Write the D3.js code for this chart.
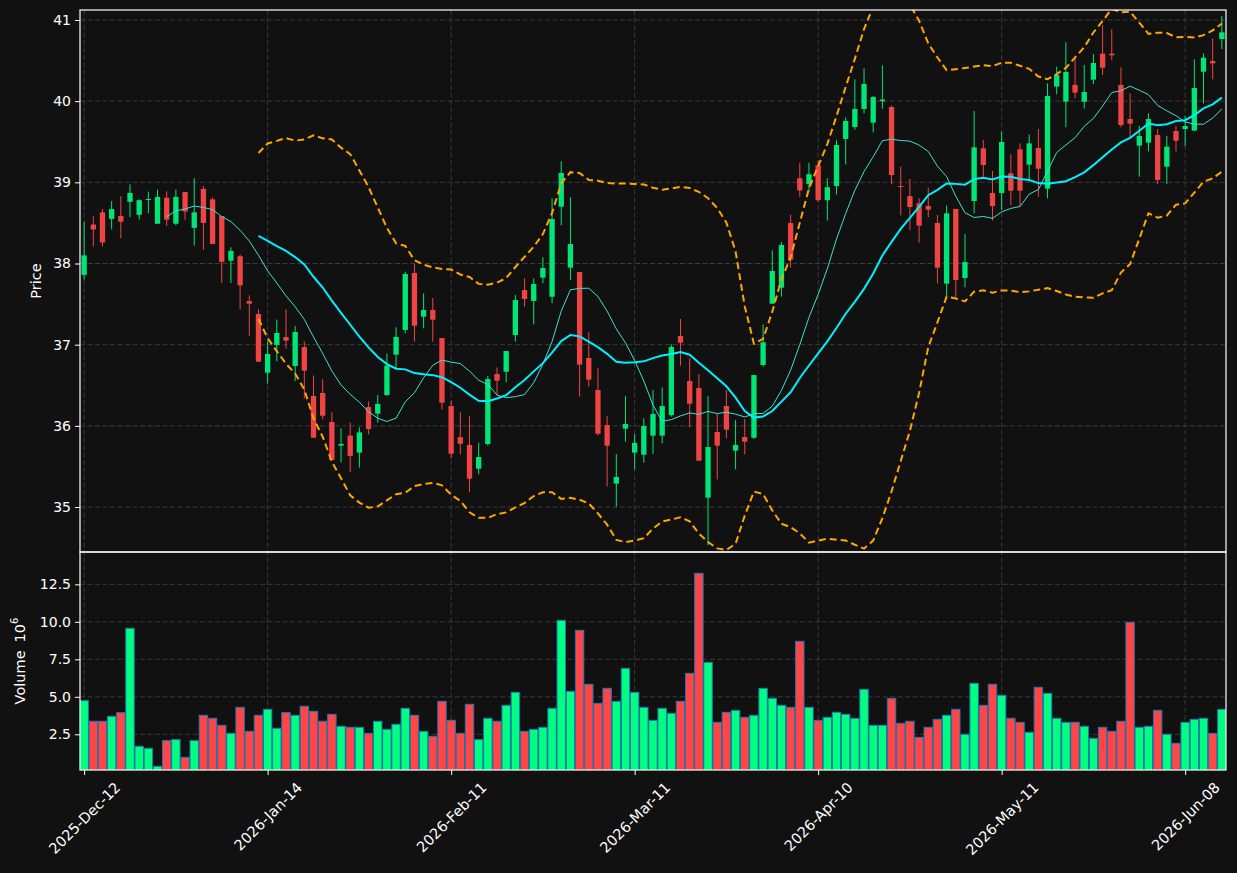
<!DOCTYPE html>
<html><head><meta charset="utf-8">
<script src="https://cdn.jsdelivr.net/npm/d3@7"></script>
<style>body{margin:0;background:#111111;} svg{display:block;}</style>
</head><body>
<svg id="chart" width="1237" height="873"></svg>
<script>
const opens = [37.86,38.48,38.63,38.55,38.585,38.76,38.60,38.785,38.49,38.81,
38.49,38.88,38.44,38.92,38.79,38.585,38.035,38.09,37.538,37.378,
36.655,36.996,37.094,36.737,36.97,36.368,36.405,36.047,35.756,35.88,
35.67,36.232,36.15,36.38,36.877,37.181,37.883,37.345,37.427,37.082,
36.244,35.862,35.764,35.472,35.776,36.639,36.667,37.119,37.673,37.538,
37.826,37.591,38.70,37.949,37.895,36.836,36.442,36.01,35.288,35.965,
35.67,35.645,35.879,35.879,36.133,37.107,36.552,36.466,35.115,35.924,
36.244,35.694,35.862,35.854,36.75,37.505,37.702,38.499,39.05,38.98,
39.21,38.78,38.955,39.534,39.682,39.904,39.735,40.0,39.928,38.955,
38.83,38.741,38.709,38.499,37.752,38.672,37.821,38.77,39.419,38.868,
38.868,39.111,39.407,39.218,39.423,38.922,40.179,39.994,40.2,39.994,
40.265,40.585,40.585,40.2,39.78,39.452,39.489,39.583,39.193,39.632,
39.657,39.637,40.363,40.495,40.766];
const highs = [38.51,38.58,38.67,38.77,38.83,38.975,38.79,38.885,38.91,38.89,
38.91,38.88,39.05,38.955,38.815,38.585,38.20,38.11,37.608,37.435,
37.04,37.31,37.435,37.23,37.04,36.62,36.573,36.17,35.97,36.04,
35.98,36.30,36.38,36.89,37.214,37.90,37.994,37.632,37.575,37.082,
36.31,36.166,36.117,35.793,36.614,36.72,36.922,37.612,37.817,37.817,
38.076,38.803,39.259,38.815,37.895,37.152,36.708,36.121,35.653,36.368,
35.90,36.093,36.442,36.474,37.004,37.316,36.832,36.639,36.368,36.146,
36.441,36.072,36.084,36.626,37.25,38.162,38.265,38.60,39.24,39.24,
39.27,39.05,39.52,39.80,40.269,40.405,40.064,40.441,39.949,39.193,
39.041,38.803,38.934,38.598,38.713,38.672,38.363,39.879,39.522,39.14,
39.624,39.345,39.48,39.59,39.657,40.22,40.425,40.725,40.548,40.446,
40.581,40.934,40.885,40.417,40.097,39.694,39.85,39.657,39.571,39.694,
39.817,40.515,40.589,40.774,41.05];
const lows = [37.80,38.21,38.21,38.42,38.31,38.57,38.54,38.62,38.49,38.46,
38.47,38.54,38.22,38.17,38.24,37.76,37.76,37.435,37.11,36.79,
36.52,36.795,36.95,36.55,36.34,35.854,36.08,35.58,35.55,35.43,
35.485,35.895,36.04,36.37,36.71,37.14,37.037,37.201,37.037,36.203,
35.60,35.649,35.18,35.403,35.756,36.38,36.536,37.037,37.468,37.25,
37.756,37.51,38.47,37.797,36.36,36.483,35.88,35.251,35.004,35.805,
35.464,35.546,35.653,35.785,36.113,36.741,35.982,35.571,34.53,35.341,
35.846,35.464,35.649,35.838,36.729,37.505,37.592,37.949,38.82,38.88,
38.76,38.53,38.85,39.22,39.649,39.85,39.616,39.907,38.975,38.593,
38.409,38.257,38.569,37.756,37.592,37.583,37.706,38.618,39.07,38.528,
38.659,38.72,38.70,39.01,38.823,38.803,40.084,39.678,40.035,39.908,
40.211,40.322,40.503,39.678,39.542,39.07,39.382,38.98,38.98,39.378,
39.448,39.637,39.973,40.269,40.643];
const closes = [38.10,38.42,38.26,38.67,38.515,38.87,38.78,38.795,38.82,38.54,
38.82,38.64,38.63,38.50,38.24,38.02,38.155,37.73,37.505,36.79,
36.885,37.144,37.05,37.156,36.68,35.854,36.125,35.579,35.777,35.63,
35.92,35.961,36.27,36.74,37.095,37.871,37.234,37.427,37.308,36.285,
35.657,35.78,35.349,35.616,36.577,36.556,36.922,37.55,37.563,37.747,
37.945,38.548,39.115,38.24,36.754,36.569,35.903,35.756,35.37,36.023,
35.79,35.998,36.146,36.244,36.971,37.025,36.273,35.571,35.739,35.756,
35.953,35.764,35.805,36.626,37.029,37.908,38.228,38.047,38.90,39.10,
38.78,38.94,39.46,39.756,39.904,40.212,40.051,40.02,39.09,38.943,
38.696,38.466,38.663,37.949,38.618,37.797,38.018,39.431,39.213,38.708,
39.497,38.897,38.897,39.48,39.168,40.064,40.322,40.36,40.105,40.113,
40.47,40.413,40.565,39.706,39.723,39.571,39.78,39.03,39.439,39.513,
39.694,40.162,40.536,40.466,40.848];
const volumes = [4.745,3.37,3.37,3.70,3.945,9.57,1.70,1.567,0.367,2.078,
2.145,0.967,2.078,3.767,3.567,3.10,2.567,4.30,2.70,3.767,
4.167,2.90,3.945,3.767,4.367,4.034,3.37,3.834,3.034,2.967,
2.967,2.567,3.37,2.833,3.167,4.234,3.767,2.70,2.367,4.70,
3.434,2.567,4.50,2.145,3.567,3.37,4.434,5.30,2.70,2.833,
2.967,4.234,10.10,5.367,9.434,5.834,4.567,5.567,4.70,6.90,
5.30,4.30,3.434,4.234,3.90,4.70,6.567,13.233,7.30,3.30,
3.967,4.10,3.634,3.767,5.567,4.90,4.434,4.30,8.70,4.30,
3.434,3.634,3.967,3.834,3.567,5.50,3.10,3.10,4.90,3.234,
3.37,2.30,2.967,3.50,3.767,4.167,2.50,5.90,4.434,5.834,
5.10,3.567,3.30,2.634,5.634,5.234,3.567,3.30,3.30,3.034,
2.234,2.967,2.70,3.37,9.967,2.967,3.034,4.10,2.50,1.90,
3.30,3.50,3.567,2.567,4.167];
const tickIndex = [0,20,40,60,80,100,120];
const tickLabels = ["2025-Dec-12","2026-Jan-14","2026-Feb-11","2026-Mar-11","2026-Apr-10","2026-May-11","2026-Jun-08"];
const priceTicks = [35,36,37,38,39,40,41];
const volumeTicks = [2.5,5,7.5,10,12.5];
const maShort = 10, maLong = 20, bbK = 2;

const W=1237,H=873;
const L=80,R=1226,T=10,MID=552,B=770;
const FONT='"DejaVu Sans", sans-serif';
const UP='#00e676', DOWN='#ef4444', VUP='#00ff80', VDOWN='#ff4545';
const svg=d3.select('#chart');
svg.append('rect').attr('width',W).attr('height',H).attr('fill','#111111');
const n=closes.length;
const x=d3.scaleLinear().domain([-0.45,n-1+0.45]).range([L,R]);
const step=x(1)-x(0);
const yP=d3.scaleLinear().domain([34.446,41.123]).range([MID,T]);
const yV=d3.scaleLinear().domain([0.12,14.656]).range([B,MID]);

const defs=svg.append('defs');
defs.append('clipPath').attr('id','cpP').append('rect').attr('x',L).attr('y',T).attr('width',R-L).attr('height',MID-T);
defs.append('clipPath').attr('id','cpV').append('rect').attr('x',L).attr('y',MID).attr('width',R-L).attr('height',B-MID);

// grids
const grid=svg.append('g').attr('stroke','#3a3a3a').attr('stroke-width',1).attr('stroke-dasharray','5,2.5');
priceTicks.forEach(v=>grid.append('line').attr('x1',L).attr('x2',R).attr('y1',yP(v)).attr('y2',yP(v)));
volumeTicks.forEach(v=>grid.append('line').attr('x1',L).attr('x2',R).attr('y1',yV(v)).attr('y2',yV(v)));
tickIndex.forEach(i=>{grid.append('line').attr('x1',x(i)).attr('x2',x(i)).attr('y1',T).attr('y2',B);});

// rolling stats
function sma(arr,w){return arr.map((_,i)=> i<w-1?null: d3.mean(arr.slice(i-w+1,i+1)));}
function sdev(arr,w){return arr.map((_,i)=>{ if(i<w-1) return null; const s=arr.slice(i-w+1,i+1); const m=d3.mean(s); return Math.sqrt(d3.mean(s,v=>(v-m)*(v-m)));});}
const ma10=sma(closes,maShort), ma20=sma(closes,maLong), sd20=sdev(closes,maLong);
const bbUp=ma20.map((m,i)=>m==null?null:m+bbK*sd20[i]);
const bbLo=ma20.map((m,i)=>m==null?null:m-bbK*sd20[i]);

const gP=svg.append('g').attr('clip-path','url(#cpP)');
const line=d3.line().defined(d=>d!=null).x((d,i)=>x(i)).y(d=>yP(d));

// candles
const idx=d3.range(n);
gP.selectAll('line.wick').data(idx).join('line').attr('class','wick')
  .attr('x1',i=>x(i)).attr('x2',i=>x(i)).attr('y1',i=>yP(highs[i])).attr('y2',i=>yP(lows[i]))
  .attr('stroke',i=>closes[i]>=opens[i]?UP:DOWN).attr('stroke-width',1);
const bw=step*0.58;
gP.selectAll('rect.body').data(idx).join('rect').attr('class','body')
  .attr('x',i=>x(i)-bw/2).attr('width',bw)
  .attr('y',i=>yP(Math.max(opens[i],closes[i])))
  .attr('height',i=>Math.max(1,Math.abs(yP(opens[i])-yP(closes[i]))))
  .attr('fill',i=>closes[i]>=opens[i]?UP:DOWN);

// MAs & bands
gP.append('path').datum(ma10).attr('d',line).attr('fill','none').attr('stroke','#40e0d0').attr('stroke-width',1);
gP.append('path').datum(ma20).attr('d',line).attr('fill','none').attr('stroke','#00f0ff').attr('stroke-width',2);
[bbUp,bbLo].forEach(b=>gP.append('path').datum(b).attr('d',line).attr('fill','none').attr('stroke','#ffa500').attr('stroke-width',2).attr('stroke-dasharray','7,4'));

// volume
const gV=svg.append('g').attr('clip-path','url(#cpV)');
const vw=step*0.92;
gV.selectAll('rect').data(idx).join('rect')
  .attr('x',i=>x(i)-vw/2).attr('width',vw)
  .attr('y',i=>yV(volumes[i])).attr('height',i=>yV(0)-yV(volumes[i]))
  .attr('fill',i=>closes[i]>=opens[i]?VUP:VDOWN)
  .attr('stroke','#1f77b4').attr('stroke-width',1);

// frames
[[T,MID],[MID,B]].forEach(([a,b])=>svg.append('rect').attr('x',L).attr('y',a).attr('width',R-L).attr('height',b-a).attr('fill','none').attr('stroke','#ffffff').attr('stroke-width',1.2));

// axes
function styleAxis(g,fs){g.select('.domain').remove();g.selectAll('line').attr('stroke','#ffffff');g.selectAll('text').attr('fill','#ffffff').style('font-family',FONT).style('font-size',fs||'14px');}
svg.append('g').attr('transform',`translate(${L},0)`).call(d3.axisLeft(yP).tickValues(priceTicks).tickSize(5).tickPadding(4).tickFormat(d3.format('d'))).call(styleAxis);
svg.append('g').attr('transform',`translate(${L},0)`).call(d3.axisLeft(yV).tickValues(volumeTicks).tickSize(5).tickPadding(4).tickFormat(d3.format('.1f'))).call(styleAxis);
const xa=svg.append('g').attr('transform',`translate(0,${B})`).call(d3.axisBottom(x).tickValues(tickIndex).tickSize(5).tickFormat((d,i)=>tickLabels[i])).call(g=>styleAxis(g,'14.5px'));
xa.selectAll('text').each(function(d){
  const t=d3.select(this); const len=this.getComputedTextLength(); const h=14.5*1.16;
  const half=0.7071*(len+h)/2;
  t.attr('y',0).attr('dy',null).attr('text-anchor','middle').attr('dominant-baseline','central')
   .attr('transform',`translate(0,${9+half}) rotate(-45)`);
});

// labels
svg.append('text').attr('transform',`translate(36,${(T+MID)/2}) rotate(-90)`).attr('text-anchor','middle').attr('dominant-baseline','central')
  .attr('fill','#fff').style('font-family',FONT).style('font-size','14.5px').text('Price');
const vl=svg.append('text').attr('transform',`translate(20,${(MID+B)/2}) rotate(-90)`).attr('text-anchor','middle').attr('dominant-baseline','central')
  .attr('fill','#fff').style('font-family',FONT).style('font-size','14.5px');
vl.append('tspan').text('Volume');
vl.append('tspan').attr('dx','8').text('10');
vl.append('tspan').attr('baseline-shift','super').style('font-size','10px').text('6');
</script>
</body></html>
